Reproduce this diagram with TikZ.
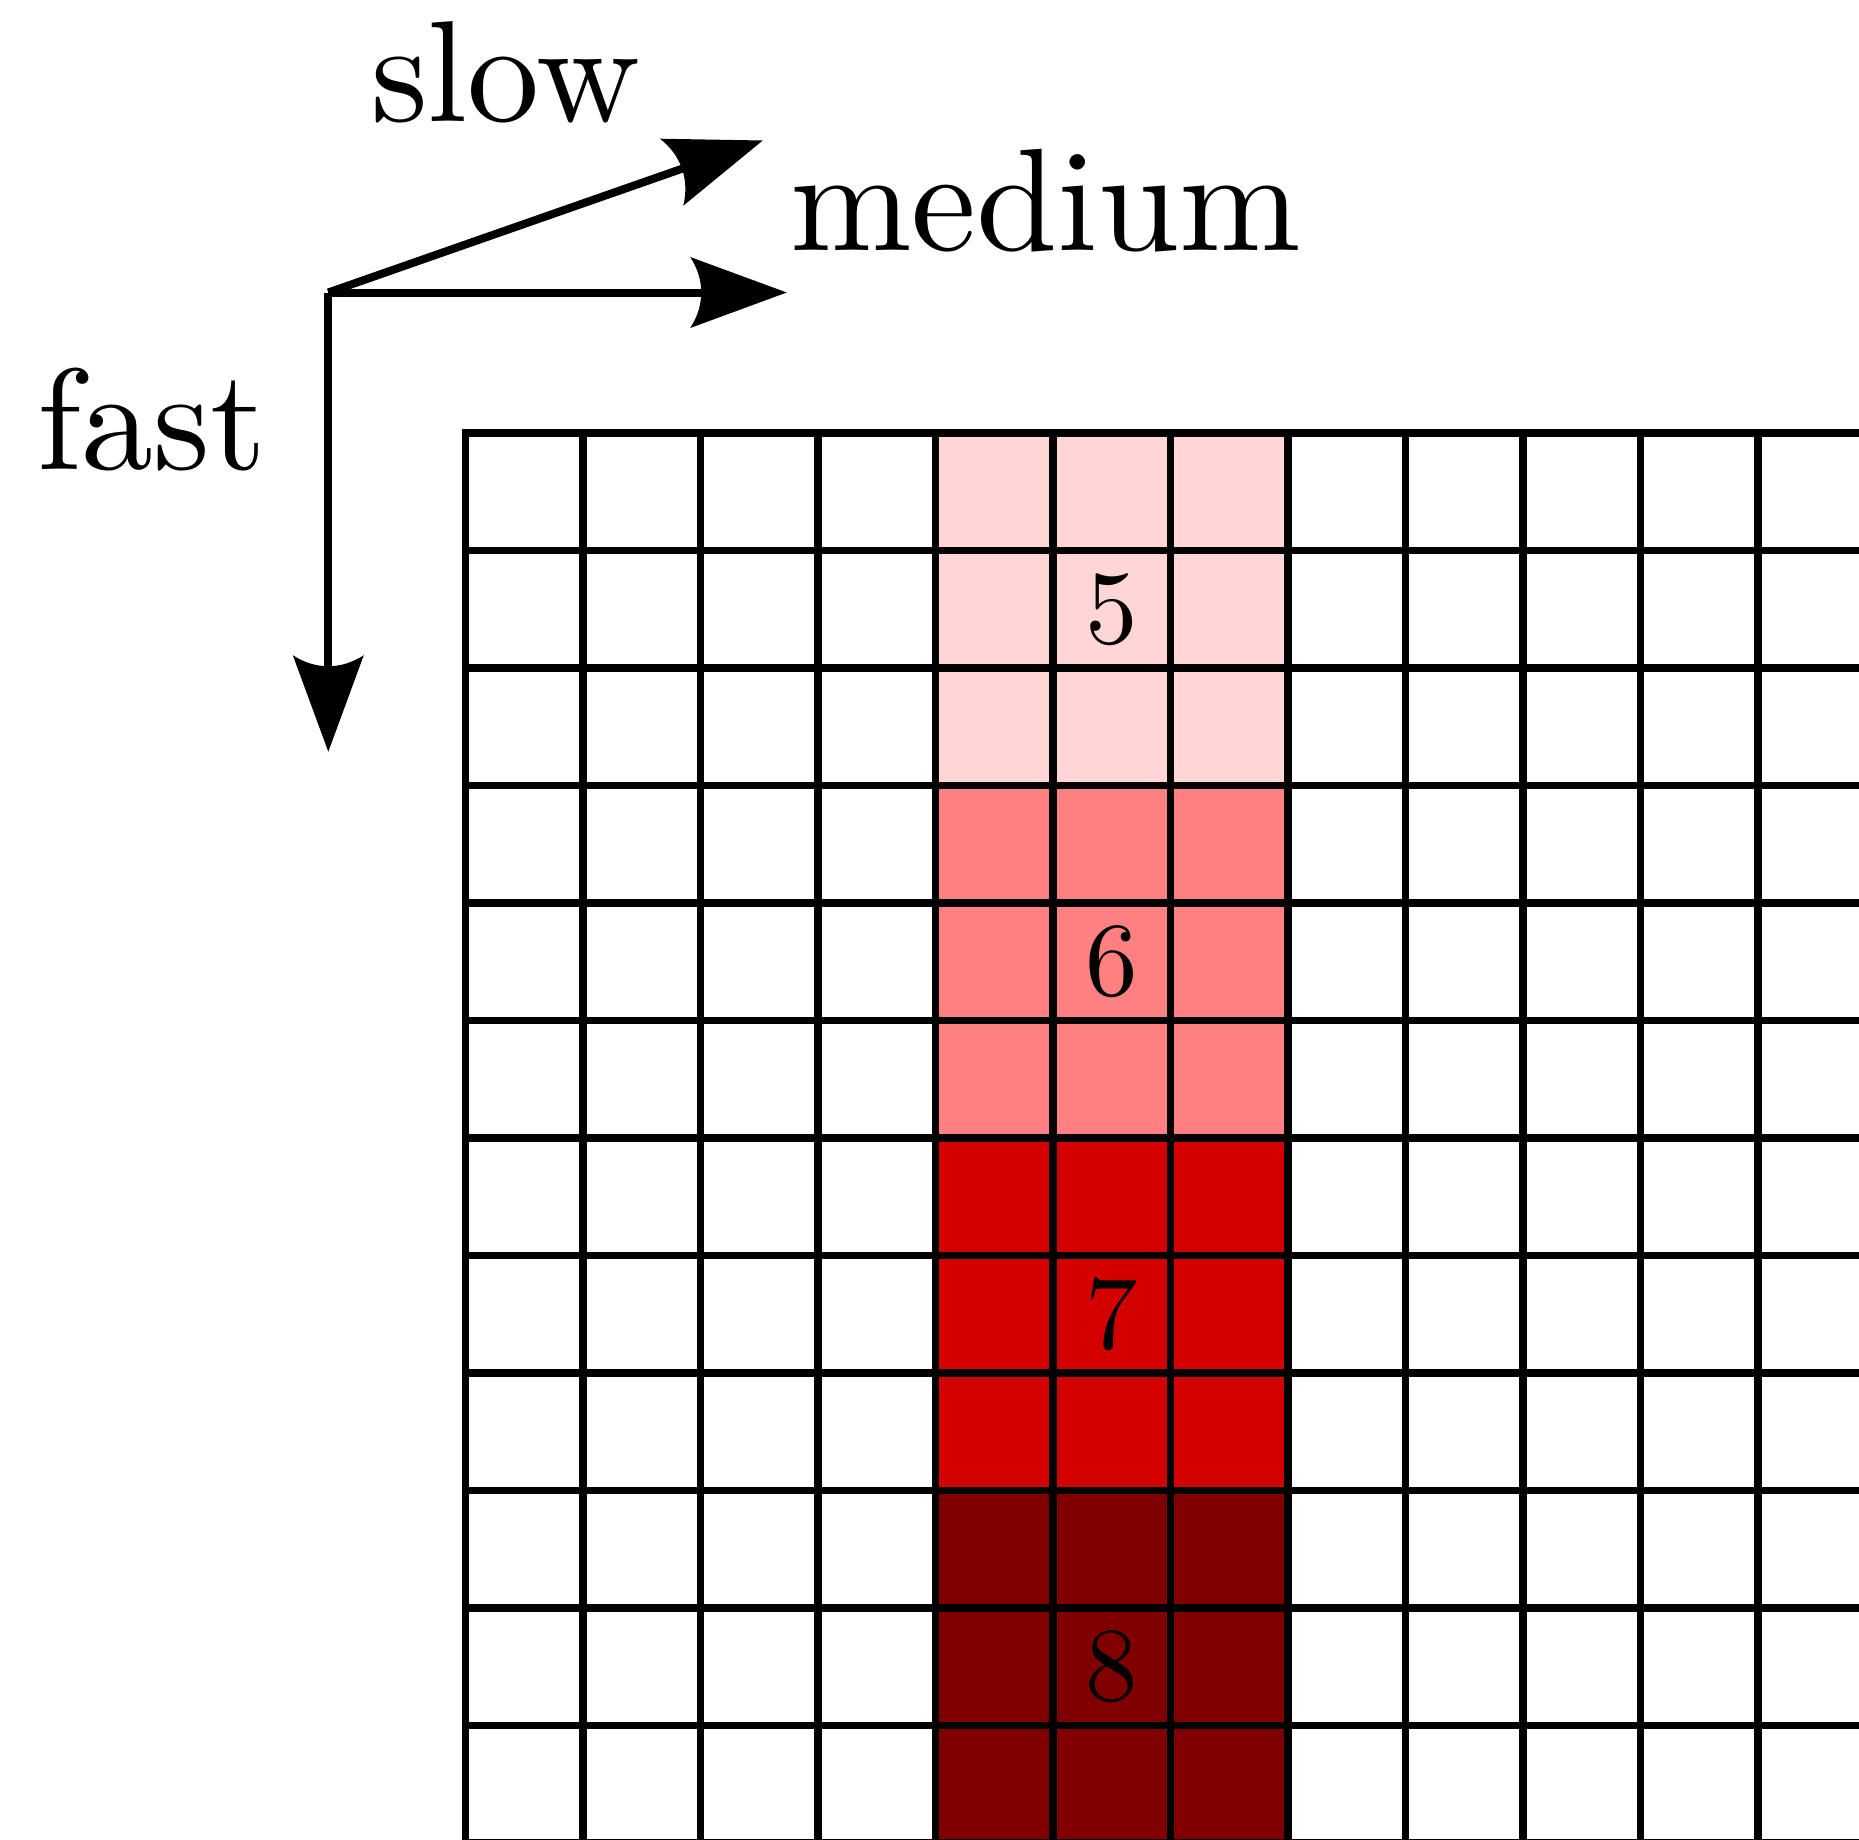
\documentclass[tikz,border=0pt]{standalone}
\usepackage{fontspec}
\newfontfamily\lmten{lmroman10-regular.otf}
\usetikzlibrary{calc}
\definecolor{cPink}{HTML}{FFD5D5}
\definecolor{cSalmon}{HTML}{FF8080}
\definecolor{cRed}{HTML}{D40000}
\definecolor{cDark}{HTML}{800000}
\tikzset{
  ahead/.pic={\fill (0,0) -- (-96.5,35.5) .. controls (-81.8,13) and (-81.8,-13) .. (-96.5,-35.5) -- cycle;}
}
\begin{document}
\begin{tikzpicture}[x=1pt,y=-1pt,
  gridline/.style={line width=7.7pt, line cap=rect},
  axis/.style={line width=8pt, shorten >=84pt},
  lbl/.style={inner sep=0pt, anchor=base west, font=\lmten\fontsize{144}{170}\selectfont},
  num/.style={inner sep=0pt, font=\lmten\fontsize{105}{126}\selectfont}]
\useasboundingbox (0,0) rectangle (1859,1839);
\begin{scope}
  \clip (0,0) rectangle (1859,1839);
  \fill[cPink]   (935.5,433)    rectangle (1288,785.5);
  \fill[cSalmon] (935.5,785.5)  rectangle (1288,1138);
  \fill[cRed]    (935.5,1138)   rectangle (1288,1490.5);
  \fill[cDark]   (935.5,1490.5) rectangle (1288,1900);
  \foreach \k in {0,...,12} {
    \draw[gridline] ({465.5+117.5*\k},433) -- ({465.5+117.5*\k},1900);
    \draw[gridline] (465.5,{433+117.5*\k}) -- (1900,{433+117.5*\k});
  }
\end{scope}
\node[num] (n5) at (1111.75,609.25) {5};
\node[num] (n6) at (1111.75,961.75) {6};
\node[num] (n7) at (1111.75,1314.25) {7};
\node[num] (n8) at (1111.75,1666.75) {8};
% axes
\coordinate (O) at (328.3,292.5);
\coordinate (fastEnd) at (328.3,751.7);
\coordinate (medEnd) at (786.7,292.5);
\coordinate (slowEnd) at (762.7,140.5);
\draw[axis] (O) -- (fastEnd);
\draw[axis] (O) -- (medEnd);
\draw[axis] (O) -- (slowEnd);
\pic[rotate=-90] at (fastEnd) {ahead};
\pic at (medEnd) {ahead};
\pic[rotate=19.2] at (slowEnd) {ahead};
\node[lbl] (lslow) at (371,121.7) {slow};
\node[lbl, font=\lmten\fontsize{146}{172}\selectfont] (lmedium) at (790,250) {medium};
\node[lbl] (lfast) at (37,469.3) {fast};
\end{tikzpicture}
\end{document}
